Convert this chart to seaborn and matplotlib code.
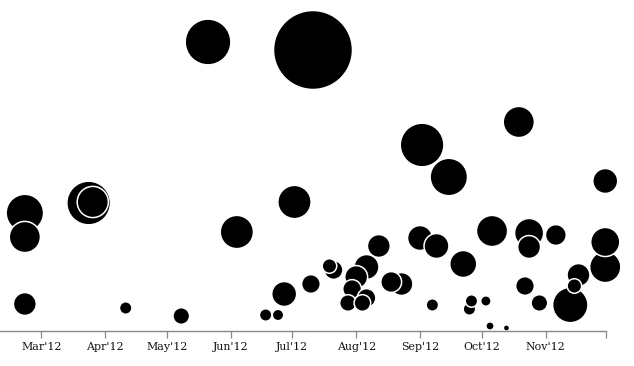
import datetime as dt
import numpy as np
import pandas as pd
import matplotlib
matplotlib.use("Agg")
import matplotlib.pyplot as plt
import matplotlib.dates as mdates
import matplotlib.ticker as mticker
import seaborn as sns

# ---- data ----
dates = ["2012-02-22", "2012-02-22", "2012-02-22", "2012-03-24", "2012-03-26",
         "2012-04-11", "2012-05-08", "2012-05-21", "2012-06-04", "2012-06-18",
         "2012-06-24", "2012-06-27", "2012-07-02", "2012-07-10", "2012-07-11",
         "2012-07-19", "2012-07-21", "2012-07-28", "2012-07-30", "2012-08-01",
         "2012-08-06", "2012-08-12", "2012-08-06", "2012-08-04", "2012-08-18",
         "2012-08-23", "2012-09-02", "2012-09-01", "2012-09-07", "2012-09-09",
         "2012-09-15", "2012-09-22", "2012-09-25", "2012-09-26", "2012-10-03",
         "2012-10-05", "2012-10-06", "2012-10-13", "2012-10-19", "2012-10-22",
         "2012-10-24", "2012-10-24", "2012-10-29", "2012-11-06", "2012-11-13",
         "2012-11-15", "2012-11-17", "2012-11-30", "2012-11-30", "2012-11-30"]
heights = [118, 94, 27, 128, 129,
           23, 15, 289, 99, 16,
           16, 37, 129, 47, 281,
           65, 61, 28, 42, 54,
           64, 85, 33, 28, 49,
           47, 186, 93, 26, 85,
           154, 67, 22, 30, 30,
           5, 100, 3, 209, 45,
           98, 84, 28, 96, 26,
           45, 56, 89, 64, 150]
amounts = [324, 225, 121, 441, 225,
           36, 64, 484, 256, 36,
           30, 144, 256, 81, 1444,
           49, 81, 64, 81, 121,
           144, 121, 81, 64, 100,
           121, 441, 144, 36, 144,
           324, 169, 36, 36, 25,
           16, 225, 9, 225, 81,
           196, 121, 64, 100, 289,
           49, 121, 196, 225, 144]
month_fmt = "%b'%y"

df = pd.DataFrame({"date": pd.to_datetime(dates), "height": heights, "amount": amounts})
df = df.sort_values("amount", ascending=False, kind="stable")

# ---- figure ----
W, H = 634, 366
fig = plt.figure(figsize=(W / 100, H / 100), dpi=100)
ax = fig.add_axes([0, 35 / H, 606 / W, 331 / H])

amax = max(amounts)
px2pt = 72 / 100
sns.scatterplot(data=df, x="date", y="height", size="amount",
                sizes=(0, (2 * px2pt) ** 2 * amax * 1.08), size_norm=(0, amax),
                color="black", edgecolor="white", linewidth=1.1, alpha=1,
                legend=False, ax=ax)
for coll in ax.collections:
    coll.set_clip_on(False)

mar1 = mdates.date2num(dt.datetime(2012, 3, 1))
ppd = (545.3 - 41.3) / 245.0
xmin = mar1 - 41.3 / ppd
xmax = mar1 + (605.7 - 41.3) / ppd
ax.set_xlim(xmin, xmax)
ax.set_ylim(0, 331)

for s in ["top", "left", "right"]:
    ax.spines[s].set_visible(False)
ax.spines["bottom"].set_color("#888888")
ax.spines["bottom"].set_linewidth(1.0)

ax.xaxis.set_major_locator(mdates.MonthLocator())
ax.xaxis.set_major_formatter(mdates.DateFormatter(month_fmt))
ax.xaxis.set_minor_locator(mticker.FixedLocator([xmax - 0.15]))
ax.tick_params(axis="x", which="both", length=5, width=0.9, color="#888888",
               pad=3, labelsize=7.9, labelcolor="#111111")
for lab in ax.get_xticklabels():
    lab.set_family(["DejaVu Serif"])
ax.set_yticks([])
ax.set_xlabel("")
ax.set_ylabel("")

fig.savefig("out.png", dpi=100)
